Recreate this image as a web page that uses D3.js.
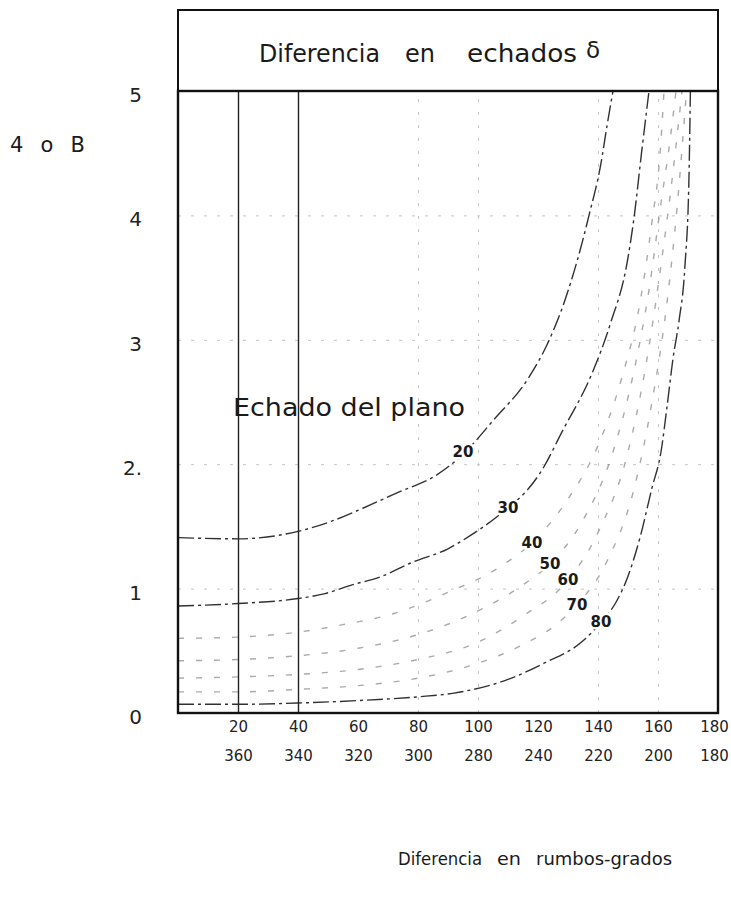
<!DOCTYPE html>
<html>
<head>
<meta charset="utf-8">
<script src="https://cdn.jsdelivr.net/npm/d3@7/dist/d3.min.js"></script>
<style>
  body { margin: 0; background: #fff; }
  svg text { font-family: "DejaVu Sans", sans-serif; fill: #1a1a1a; }
</style>
</head>
<body>
<div id="chart"></div>
<script>
// strike difference (deg) on x, factor "A o B" on y
const rumboTicks = [20, 40, 60, 80, 100, 120, 140, 160, 180];
const rumboLabelsTop = "20 40 60 80 100 120 140 160 180".split(" ");
const rumboLabelsBottom = "360 340 320 300 280 240 220 200 180".split(" ");
const abTicks = [0, 1, 2, 3, 4, 5];
const abLabels = ["0", "1", "2.", "3", "4", "5"];
const gridX = [80, 100, 140, 160];
const gridY = [1, 2, 3, 4];
const strikeLines = [20, 40];

// one curve per dip of the plane: [strike difference, A o B]
const dips = [20, 30, 40, 50, 60, 70, 80];
const dip20 = [[0, 1.41], [20, 1.4], [40, 1.46], [51, 1.54], [62, 1.65], [73, 1.77], [86, 1.91], [95, 2.08], [105, 2.35], [117, 2.7], [123, 2.96], [129, 3.32], [133, 3.63], [137, 4.0], [141, 4.42], [143, 4.72], [145, 5.0]];
const dip30 = [[0, 0.86], [20, 0.88], [40, 0.92], [49, 0.96], [58, 1.03], [67, 1.09], [78, 1.21], [90, 1.32], [97, 1.42], [102, 1.5], [110, 1.65], [116, 1.78], [121, 1.94], [128, 2.26], [138, 2.73], [144, 3.12], [150, 3.66], [152, 3.98], [154.5, 4.5], [157, 5.0]];
const dip40 = [[0, 0.6], [20, 0.61], [40, 0.65], [55, 0.71], [72, 0.8], [90, 0.97], [107, 1.17], [118, 1.37], [130, 1.72], [140, 2.15], [148, 2.7], [154, 3.3], [158, 3.95], [160.7, 4.5], [162, 5.0]];
const dip50 = [[0, 0.42], [20, 0.43], [40, 0.46], [60, 0.52], [80, 0.63], [100, 0.82], [115, 1.03], [124, 1.2], [135, 1.55], [145, 2.1], [152, 2.75], [157, 3.4], [161, 4.1], [164, 4.6], [166, 5.0]];
const dip60 = [[0, 0.28], [20, 0.29], [40, 0.31], [60, 0.35], [80, 0.43], [100, 0.57], [115, 0.78], [130, 1.07], [140, 1.45], [150, 2.1], [156, 2.8], [161, 3.6], [165, 4.35], [168, 5.0]];
const dip70 = [[0, 0.17], [20, 0.17], [40, 0.19], [60, 0.22], [80, 0.28], [100, 0.4], [115, 0.55], [126, 0.71], [133, 0.87], [143, 1.22], [152, 1.8], [158, 2.5], [163, 3.3], [166.5, 4.1], [169.5, 5.0]];
const dip80 = [[0, 0.07], [20, 0.07], [40, 0.08], [60, 0.1], [80, 0.13], [92, 0.16], [110, 0.27], [122, 0.4], [135, 0.58], [141, 0.73], [146, 0.89], [150, 1.1], [154, 1.41], [158, 1.81], [161, 2.1], [163, 2.46], [165, 2.85], [167, 3.15], [169, 3.6], [170.3, 4.28], [170.8, 5.0]];
const dipLabelAt = [[95, 2.1], [110, 1.65], [118, 1.37], [124, 1.2], [130, 1.07], [133, 0.87], [141, 0.73]];

const curves = dips.map((dip, i) => ({
  dip,
  points: [dip20, dip30, dip40, dip50, dip60, dip70, dip80][i],
  label: dipLabelAt[i],
}));

const width = 731;
const height = 898;
const plot = { left: 178, right: 718, top: 91, bottom: 713, boxTop: 10 };

const x = d3.scaleLinear().domain([0, 180]).range([plot.left, plot.right]);
const y = d3.scaleLinear().domain([0, 5]).range([plot.bottom, plot.top]);

const svg = d3
  .select("#chart")
  .append("svg")
  .attr("width", width)
  .attr("height", height);

// faint dotted grid of the scan
svg
  .append("g")
  .attr("class", "grid")
  .attr("transform", `translate(${plot.left}, 0)`)
  .call(d3.axisLeft(y).tickValues(gridY).tickSize(-(plot.right - plot.left)).tickFormat(""))
  .call((g) => g.select(".domain").remove())
  .selectAll("line")
  .attr("stroke", "#c4c4c4")
  .attr("stroke-dasharray", "3 10");

svg
  .append("g")
  .attr("class", "grid")
  .attr("transform", `translate(0, ${plot.bottom})`)
  .call(d3.axisBottom(x).tickValues(gridX).tickSize(-(plot.bottom - plot.top)).tickFormat(""))
  .call((g) => g.select(".domain").remove())
  .selectAll("line")
  .attr("stroke", "#c4c4c4")
  .attr("stroke-dasharray", "3 10");

// solid vertical lines at 20 and 40 degrees
svg
  .append("g")
  .attr("transform", `translate(0, ${plot.bottom})`)
  .call(d3.axisBottom(x).tickValues(strikeLines).tickSize(-(plot.bottom - plot.top)).tickFormat(""))
  .call((g) => g.select(".domain").remove())
  .selectAll("line")
  .attr("stroke", "#222")
  .attr("stroke-width", 1.4);

// curves
const line = d3
  .line()
  .x((d) => x(d[0]))
  .y((d) => y(d[1]))
  .curve(d3.curveMonotoneX);

svg
  .append("clipPath")
  .attr("id", "clip")
  .append("rect")
  .attr("x", plot.left)
  .attr("y", plot.top)
  .attr("width", plot.right - plot.left)
  .attr("height", plot.bottom - plot.top);

const curveG = svg.append("g").attr("clip-path", "url(#clip)");

curves.forEach((c) => {
  const strong = c.dip === 20 || c.dip === 30 || c.dip === 80;
  curveG
    .append("path")
    .attr("d", line(c.points))
    .attr("fill", "none")
    .attr("stroke", strong ? "#262626" : "#555")
    .attr("stroke-opacity", strong ? 0.95 : 0.5)
    .attr("stroke-width", 1.4)
    .attr("stroke-dasharray", strong ? "16 4 3 4" : "6 12");
});

curveG
  .selectAll(".dip-label")
  .data(curves)
  .enter()
  .append("text")
  .attr("class", "dip-label")
  .attr("x", (d) => x(d.label[0]))
  .attr("y", (d) => y(d.label[1]))
  .attr("text-anchor", "middle")
  .attr("dominant-baseline", "central")
  .attr("font-size", 15)
  .attr("font-weight", "bold")
  .attr("stroke", "#fff")
  .attr("stroke-width", 5)
  .attr("paint-order", "stroke")
  .text((d) => d.dip);

// frame and title box
svg
  .append("rect")
  .attr("x", plot.left)
  .attr("y", plot.boxTop)
  .attr("width", plot.right - plot.left)
  .attr("height", plot.top - plot.boxTop)
  .attr("fill", "none")
  .attr("stroke", "#111")
  .attr("stroke-width", 2);

svg
  .append("rect")
  .attr("x", plot.left)
  .attr("y", plot.top)
  .attr("width", plot.right - plot.left)
  .attr("height", plot.bottom - plot.top)
  .attr("fill", "none")
  .attr("stroke", "#111")
  .attr("stroke-width", 2.4);

// axes
const yAxis = svg
  .append("g")
  .attr("transform", `translate(${plot.left}, 4)`)
  .call(d3.axisLeft(y).tickValues(abTicks).tickFormat((d, i) => abLabels[i]).tickSize(0).tickPadding(36));
yAxis.select(".domain").remove();
yAxis.selectAll("text").attr("font-size", 20);

const xAxisTop = svg
  .append("g")
  .attr("transform", `translate(0, ${plot.bottom})`)
  .call(d3.axisBottom(x).tickValues(rumboTicks).tickFormat((d, i) => rumboLabelsTop[i]).tickSize(0).tickPadding(8));
xAxisTop.select(".domain").remove();

const xAxisBottom = svg
  .append("g")
  .attr("transform", `translate(0, ${plot.bottom})`)
  .call(d3.axisBottom(x).tickValues(rumboTicks).tickFormat((d, i) => rumboLabelsBottom[i]).tickSize(0).tickPadding(37));
xAxisBottom.select(".domain").remove();

svg
  .selectAll(".tick text")
  .style("font-family", "DejaVu Sans")
  .style("fill", "#222");
xAxisTop.selectAll("text").attr("font-size", 15);
xAxisBottom.selectAll("text").attr("font-size", 15);
// the 180 labels sit against the right edge of the page
svg.selectAll(".tick text").filter((d) => d === 180).attr("dx", -4);

// titles
const title = svg.append("g");
title.append("text").attr("x", 259).attr("y", 62).attr("font-size", 24)
  .attr("textLength", 121).attr("lengthAdjust", "spacingAndGlyphs").text("Diferencia");
title.append("text").attr("x", 405).attr("y", 62).attr("font-size", 24)
  .attr("textLength", 30).attr("lengthAdjust", "spacingAndGlyphs").text("en");
title.append("text").attr("x", 467).attr("y", 62).attr("font-size", 24)
  .attr("textLength", 110).attr("lengthAdjust", "spacingAndGlyphs").text("echados");
title.append("text").attr("x", 586).attr("y", 58).attr("font-size", 23).text("δ");

svg.append("text").attr("x", 10).attr("y", 152).attr("font-size", 21)
  .attr("textLength", 75).attr("lengthAdjust", "spacing").text("4 o B");

svg.append("text").attr("x", 233).attr("y", 416).attr("font-size", 25)
  .attr("textLength", 232).attr("lengthAdjust", "spacingAndGlyphs").text("Echado del plano");

const xTitle = svg.append("g");
xTitle.append("text").attr("x", 398).attr("y", 865).attr("font-size", 18.5)
  .attr("textLength", 84).attr("lengthAdjust", "spacingAndGlyphs").text("Diferencia");
xTitle.append("text").attr("x", 497).attr("y", 865).attr("font-size", 18.5)
  .attr("textLength", 24).attr("lengthAdjust", "spacingAndGlyphs").text("en");
xTitle.append("text").attr("x", 536).attr("y", 865).attr("font-size", 18.5)
  .attr("textLength", 136).attr("lengthAdjust", "spacingAndGlyphs").text("rumbos-grados");
</script>
</body>
</html>
